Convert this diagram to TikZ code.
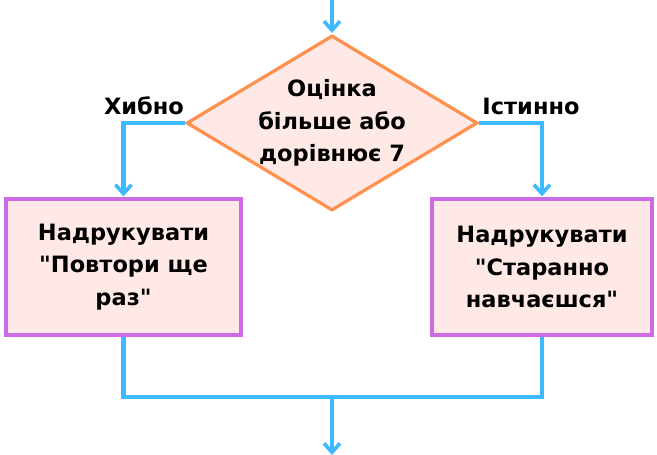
\documentclass[tikz,border=0pt]{standalone}
\usepackage{fontspec}
\setmainfont{DejaVu Sans}[Ligatures=TeXOff]
\usetikzlibrary{shapes.geometric,arrows.meta}
\definecolor{flowblue}{HTML}{3DB9FF}
\definecolor{dorange}{HTML}{FF914D}
\definecolor{pinkfill}{HTML}{FFE9E6}
\definecolor{boxpurple}{HTML}{CB6CE6}
\tikzset{
  conn/.style={draw=flowblue, line width=4.5pt},
  arr/.style={conn, -{Straight Barb[length=9pt,width=16pt,line width=3.6pt]}},
  decision/.style={diamond, draw=dorange, fill=pinkfill, line width=3.2pt, minimum width=291pt, minimum height=175pt, inner sep=0pt},
  txt/.style={font=\fontsize{22.5pt}{32.5pt}\selectfont\bfseries, align=center, text=black},
  procbox/.style={draw=boxpurple, fill=pinkfill, line width=3.2pt, minimum height=136pt, inner sep=0pt},
  lbl/.style={font=\fontsize{22.5pt}{24pt}\selectfont\bfseries, text=black}
}
\begin{document}
\begin{tikzpicture}[x=1pt,y=-1pt]
\useasboundingbox (0,0) rectangle (657,455);
\node[decision] (d) at (332,123) {};
\node[txt] (dt) at (d.center) {Оцінка\\більше або\\дорівнює 7};
\node[procbox, minimum width=235pt] (lb) at (123.5,267) {};
\node[txt] (lt) at (lb.center) {Надрукувати\\"Повтори ще\\раз"};
\node[procbox, minimum width=220pt] (rb) at (542,267) {};
\node[txt] (rt) at (rb.center) {Надрукувати\\"Старанно\\навчаєшся"};
\node[lbl] (no) at (144,106) {Хибно};
\node[lbl] (yes) at (531,106) {Істинно};
\coordinate (top) at (332,-2);
\coordinate (j) at (332,397);
\coordinate (bot) at (332,455);
\draw[arr, shorten >=1pt] (top) -- (d.north);
\draw[arr, shorten >=1pt] (d.west) -| (lb.north);
\draw[arr, shorten >=1pt] (d.east) -| (rb.north);
\draw[conn] (lb.south) |- (j) -| (rb.south);
\draw[arr] (j) -- (bot);
\end{tikzpicture}
\end{document}
